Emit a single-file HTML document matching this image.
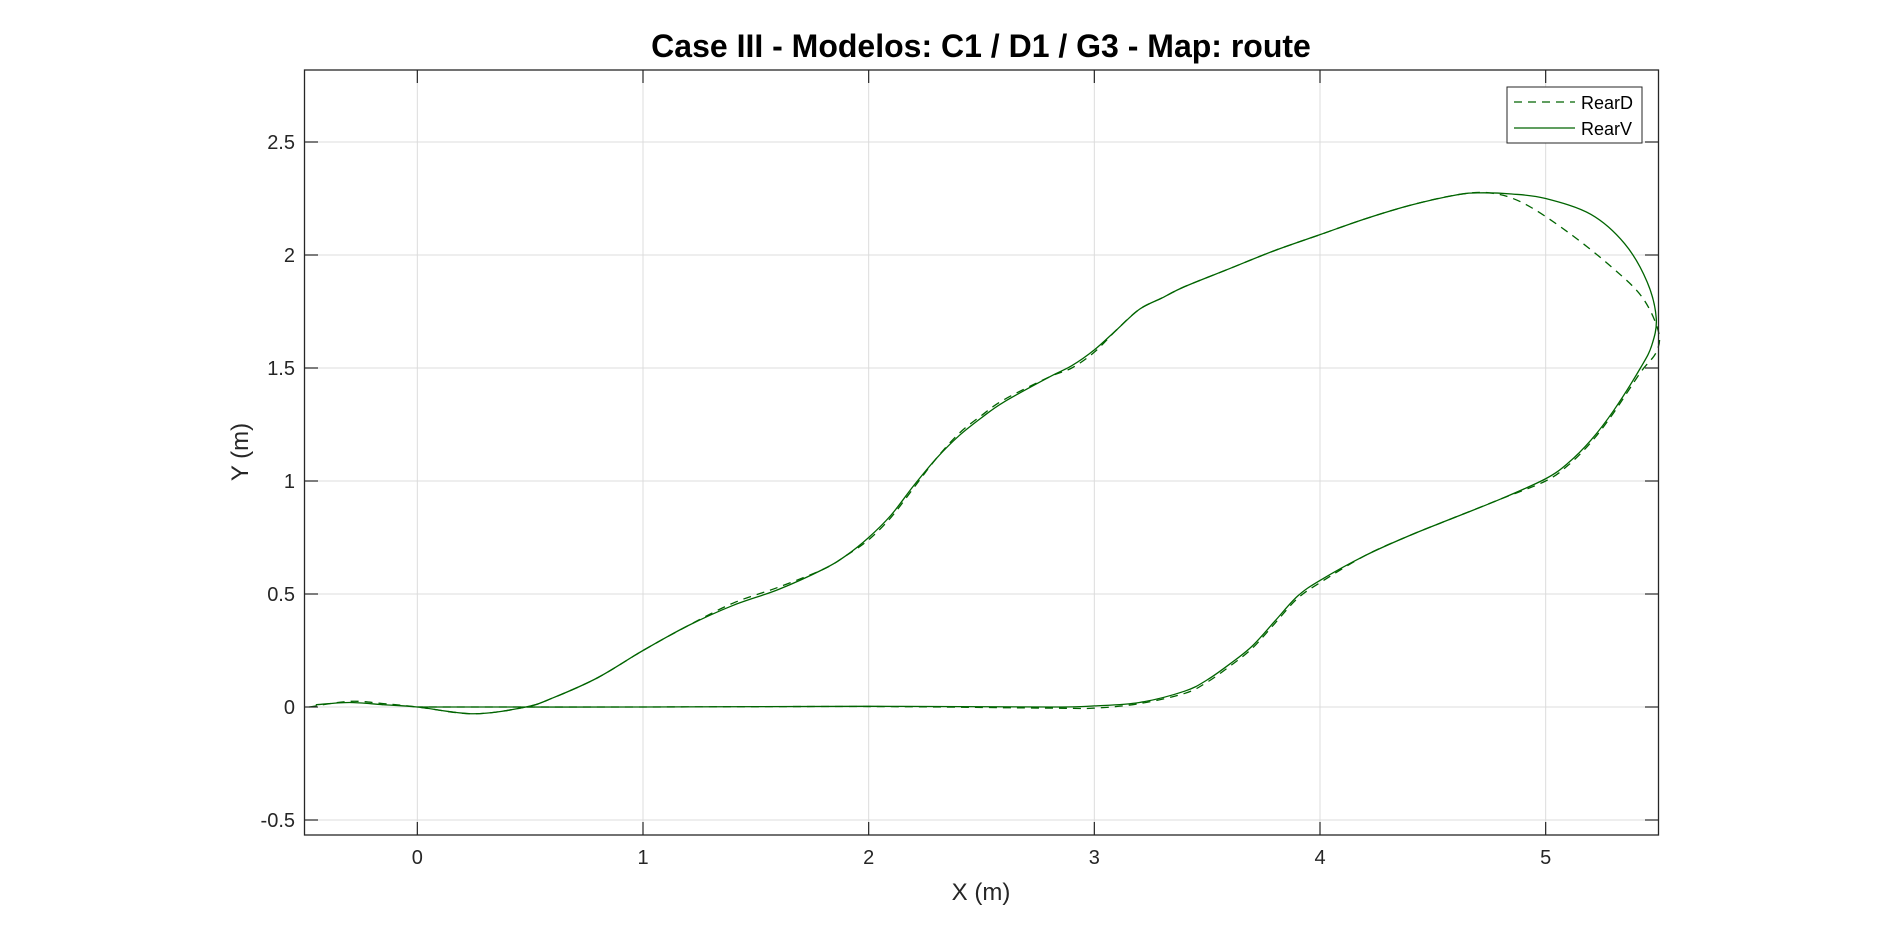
<!DOCTYPE html>
<html><head><meta charset="utf-8"><style>
body{margin:0;background:#fff;}
svg{display:block;font-family:"Liberation Sans",Arial,sans-serif;}
</style></head><body>
<svg id="chart" width="1897" height="940" viewBox="0 0 1897 940" xmlns="http://www.w3.org/2000/svg">
<rect width="1897" height="940" fill="#fff"/>
<text x="981" y="57" text-anchor="middle" font-size="32" font-weight="bold" fill="#000">Case III - Modelos: C1 / D1 / G3 - Map: route</text>
<g id="grid"></g>
<g id="series"></g>
<rect x="304.5" y="70" width="1354" height="765" fill="none" stroke="#262626" stroke-width="1.3"/>
<g id="ticks"></g>
<text x="981" y="900" text-anchor="middle" font-size="24" fill="#262626">X (m)</text>
<text transform="translate(248,452) rotate(-90)" text-anchor="middle" font-size="24" fill="#262626">Y (m)</text>
<g>
<rect x="1507" y="87" width="135" height="56" fill="#fff" stroke="#262626" stroke-width="1"/>
<line x1="1514" y1="102" x2="1575" y2="102" stroke="#006400" stroke-width="1.3" stroke-dasharray="8,6"/>
<text x="1581" y="109" font-size="18" fill="#000">RearD</text>
<line x1="1514" y1="128" x2="1575" y2="128" stroke="#006400" stroke-width="1.3"/>
<text x="1581" y="135" font-size="18" fill="#000">RearV</text>
</g>
</svg>
<script>
const xTicks=[0,1,2,3,4,5];
const yTicks=[-0.5,0,0.5,1,1.5,2,2.5];
const yTickLabels=["-0.5","0","0.5","1","1.5","2","2.5"];
const xV=[-0.45,-0.3,-0.15,0,0.25,0.48,0.6,0.8,1.0,1.2,1.4,1.6,1.8,1.9,2.0,2.1,2.2,2.3,2.4,2.5,2.6,2.8,2.9,3.0,3.1,3.2,3.3,3.4,3.6,3.8,4.0,4.2,4.4,4.6,4.7,4.85,5.0,5.2,5.35,5.45,5.49,5.47,5.42,5.3,5.2,5.1,5.0,4.8,4.6,4.4,4.2,4.0,3.9,3.8,3.7,3.6,3.5,3.4,3.2,3.0,2.8,2.0,1.0,0.0];
const yV=[0.01,0.02,0.01,0,-0.03,0,0.04,0.13,0.25,0.36,0.45,0.52,0.61,0.67,0.75,0.85,0.98,1.1,1.2,1.28,1.35,1.46,1.51,1.58,1.67,1.76,1.81,1.86,1.94,2.02,2.09,2.16,2.22,2.265,2.275,2.27,2.25,2.18,2.05,1.88,1.72,1.6,1.5,1.31,1.18,1.08,1.01,0.92,0.84,0.76,0.67,0.56,0.49,0.38,0.27,0.19,0.12,0.07,0.02,0.005,0,0.003,0,0];
const xD=[-0.48,-0.3,-0.15,0,0.25,0.48,0.6,0.8,1.0,1.2,1.4,1.6,1.8,1.9,2.0,2.1,2.2,2.3,2.4,2.5,2.6,2.8,2.9,3.0,3.1,3.2,3.3,3.4,3.6,3.8,4.0,4.2,4.4,4.6,4.75,4.9,5.1,5.3,5.43,5.5,5.49,5.42,5.3,5.2,5.1,5.0,4.8,4.6,4.4,4.2,4.0,3.9,3.8,3.7,3.6,3.5,3.4,3.2,3.0,2.8,2.0,1.0,0.0];
const yD=[0,0.025,0.015,0,-0.03,0,0.04,0.13,0.25,0.36,0.46,0.53,0.61,0.67,0.74,0.84,0.97,1.1,1.21,1.29,1.36,1.46,1.5,1.57,1.67,1.76,1.81,1.86,1.94,2.02,2.09,2.16,2.22,2.265,2.275,2.23,2.1,1.94,1.81,1.66,1.57,1.48,1.3,1.17,1.07,1.0,0.92,0.84,0.76,0.67,0.55,0.48,0.37,0.26,0.18,0.11,0.06,0.015,-0.005,-0.005,0.002,0,0];
const X0=304.5,X1=1658.5,xmin=-0.5,xmax=5.5;
const sx=v=>X0+(v-xmin)*(X1-X0)/(xmax-xmin);
const sy=v=>707-v*226;
const NS="http://www.w3.org/2000/svg";
const grid=document.getElementById('grid'),ticks=document.getElementById('ticks'),series=document.getElementById('series');
function mk(tag,attrs,parent){const e=document.createElementNS(NS,tag);for(const k in attrs)e.setAttribute(k,attrs[k]);parent.appendChild(e);return e;}
xTicks.forEach(t=>{
 const x=sx(t);
 const g=mk('line',{x1:x,x2:x,y1:70,y2:835,stroke:'#dcdcdc','stroke-width':1},grid);
 
 
 mk('line',{x1:x,x2:x,y1:835,y2:822,stroke:'#262626','stroke-width':1.2},ticks);
 mk('line',{x1:x,x2:x,y1:70,y2:83,stroke:'#262626','stroke-width':1.2},ticks);
 const l=mk('text',{x:x,y:864,'text-anchor':'middle','font-size':20,fill:'#262626'},ticks);
 l.textContent=String(t);
 
 
});
yTicks.forEach((t,i)=>{
 const y=sy(t);
 const g=mk('line',{x1:304.5,x2:1658.5,y1:y,y2:y,stroke:'#dcdcdc','stroke-width':1},grid);
 
 
 mk('line',{x1:304.5,x2:318,y1:y,y2:y,stroke:'#262626','stroke-width':1.2},ticks);
 mk('line',{x1:1645,x2:1658.5,y1:y,y2:y,stroke:'#262626','stroke-width':1.2},ticks);
 const l=mk('text',{x:295,y:y+7,'text-anchor':'end','font-size':20,fill:'#262626'},ticks);
 l.textContent=yTickLabels[i];
 
 
});
function smooth(xs,ys){
 const p=xs.map((v,i)=>[sx(v),sy(ys[i])]);
 let d='M'+p[0][0]+','+p[0][1];
 for(let i=0;i<p.length-1;i++){
  const p0=p[Math.max(0,i-1)],p1=p[i],p2=p[i+1],p3=p[Math.min(p.length-1,i+2)];
  const c1=[p1[0]+(p2[0]-p0[0])/6,p1[1]+(p2[1]-p0[1])/6];
  const c2=[p2[0]-(p3[0]-p1[0])/6,p2[1]-(p3[1]-p1[1])/6];
  d+=' C'+c1+' '+c2+' '+p2;
 }
 return d;
}
const pv=mk('path',{d:smooth(xV,yV),fill:'none',stroke:'#006400','stroke-width':1.3},series);


const pd=mk('path',{d:smooth(xD,yD),fill:'none',stroke:'#006400','stroke-width':1.3,'stroke-dasharray':'8,6'},series);


</script>
</body></html>
